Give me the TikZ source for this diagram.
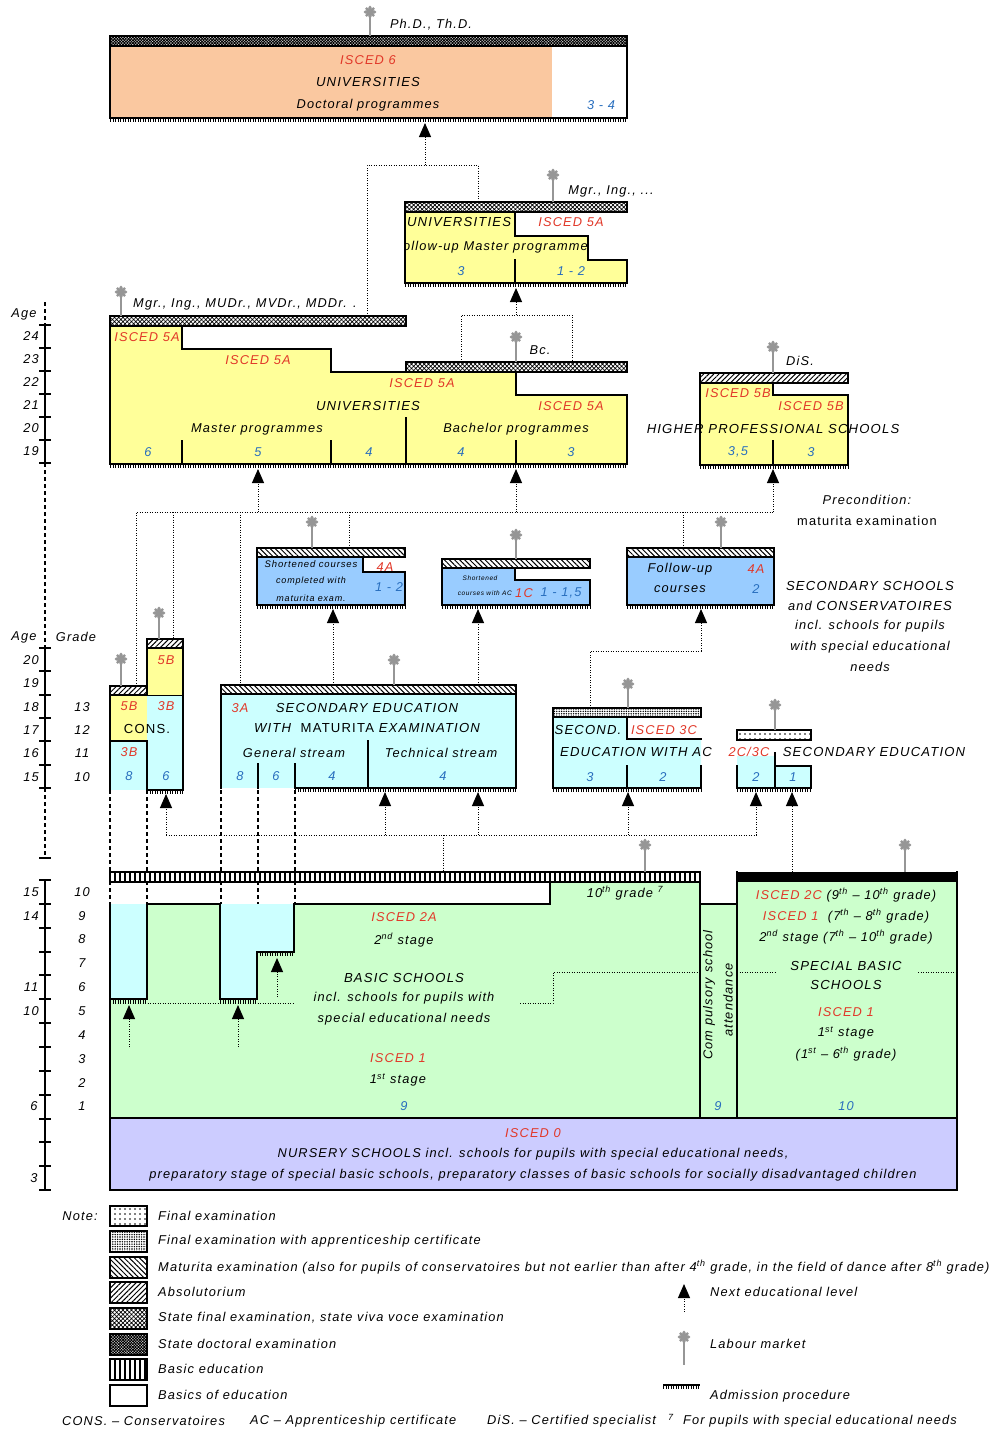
\documentclass[tikz,border=0pt]{standalone}
\usepackage{fontspec}
\setmainfont{Liberation Sans}[LetterSpace=9]
\usetikzlibrary{patterns,patterns.meta,arrows.meta}
\definecolor{orng}{RGB}{250,200,160}
\definecolor{yel}{RGB}{255,255,153}
\definecolor{lblue}{RGB}{204,255,255}
\definecolor{mblue}{RGB}{153,204,255}
\definecolor{grn}{RGB}{204,255,204}
\definecolor{lav}{RGB}{204,204,255}
\definecolor{iscred}{RGB}{225,55,40}
\definecolor{numblue}{RGB}{40,110,190}
\definecolor{pinc}{RGB}{150,150,150}
\newcommand\fs{\fontsize{12.8}{14}\selectfont}
\newcommand\fsc{\fontsize{13.1}{15}\selectfont}
\newcommand\tsup[1]{\textsuperscript{#1}}
\tikzset{
  ol/.style={line width=2pt, line join=miter, line cap=rect},
  thinl/.style={line width=1pt},
  txt/.style={font=\fs\itshape, inner sep=0pt, anchor=center},
  ctxt/.style={font=\fsc\itshape, inner sep=0pt, anchor=center},
  lab/.style={txt, text=iscred},
  num/.style={txt, text=numblue},
  dotl/.style={line width=1pt, dash pattern=on 1pt off 1.5pt},
  dashl/.style={line width=1.2pt, dash pattern=on 4pt off 3pt},
  arr/.style={dotl, -{Triangle[width=12pt,length=14pt]}},
  comb/.style={line width=3pt, dash pattern=on 1.2pt off 1.3pt},
  pmat/.style={pattern={Lines[angle=-45,distance=3.6pt,line width=1pt]}},
  pabs/.style={pattern={Lines[angle=45,distance=3.6pt,line width=1pt]}},
  pstate/.style={pattern={Hatch[angle=45,distance=3pt,line width=0.7pt]}},
  pdoc/.style={pattern={Hatch[angle=45,distance=2pt,line width=0.9pt]}},
  pac/.style={pattern={Dots[distance=2.4pt,radius=0.8pt]}},
  pfin/.style={pattern={Dots[distance=5pt,radius=0.9pt]}},
  pbas/.style={pattern={Lines[angle=90,distance=5pt,line width=2.6pt]}},
}
\newcommand\xbar[5]{\fill[white] (#1,#2) rectangle (#3,#4);\fill[#5] (#1,#2) rectangle (#3,#4);\draw[line width=1.4pt] (#1,#2) rectangle (#3,#4);}
\newcommand\combl[3]{\draw[comb] (#1,#3+2.6) -- (#2,#3+2.6);}
\newcommand\lpin[3]{\draw[pinc,line width=1.6pt] (#1,#2) -- (#1,#3);\fill[pinc] (#1,#2) circle (4.3);\foreach \a in {0,45,...,315}{\fill[pinc] (#1,#2) ++(\a:4.6) circle (1.7);}}
\begin{document}
\begin{tikzpicture}[x=1pt,y=-1pt]
\useasboundingbox (0,0) rectangle (993,1429);
\fill[white] (0,0) rectangle (993,1429);

% ---------- age / grade axes
\draw[dashl] (45,302) -- (45,325);
\draw[dashl] (45,463) -- (45,648);
\draw[dashl] (45,788) -- (45,858);
\draw[ol] (40,858) -- (50,858);
\draw[ol] (45,325) -- (45,463);
\foreach \k in {0,...,6} \draw[ol] (40,325+23*\k) -- (50,325+23*\k);
\draw[ol] (45,648) -- (45,788);
\foreach \k in {0,...,6} \draw[ol] (40,648+23.33*\k) -- (50,648+23.33*\k);
\draw[ol] (45,880) -- (45,1190);
\foreach \k in {0,...,13} \draw[ol] (40,880+23.85*\k) -- (50,880+23.85*\k);
\node[txt] (ageA) at (24,314) {Age};
\foreach \a [count=\i] in {24,23,22,21,20,19} \node[txt] (ua\i) at (31,313.5+23*\i) {\a};
\node[txt] (ageB) at (24,637) {Age};
\node[txt] (gradeB) at (76,637) {Grade};
\foreach \a [count=\i] in {20,19,18,17,16,15} \node[txt] (ma\i) at (31,636.7+23.33*\i) {\a};
\foreach \g [count=\i] in {13,12,11,10} \node[txt] (mg\i) at (82,683.3+23.33*\i) {\g};
\node[txt] (la15) at (31,892) {15};
\node[txt] (la14) at (31,916) {14};
\node[txt] (la11) at (31,987) {11};
\node[txt] (la10) at (31,1011) {10};
\node[txt] (la6) at (34,1106) {6};
\node[txt] (la3) at (34,1178) {3};
\foreach \g [count=\i] in {10,9,8,7,6,5,4,3,2,1} \node[txt] (lg\i) at (82,868+23.85*\i) {\g};

% ---------- ISCED 6
\fill[orng] (110,46) rectangle (552,118);
\draw[ol] (110,46) rectangle (627,118);
\xbar{110}{36}{627}{46}{pdoc}
\combl{110}{627}{118}
\lpin{370}{12}{36}
\node[txt] (phd) at (431,25) {Ph.D., Th.D.};
\node[lab] (i6a) at (368,60) {ISCED 6};
\node[ctxt] (i6b) at (368,82) {UNIVERSITIES};
\node[txt] (i6c) at (368,105) {Doctoral programmes};
\node[num] (i6d) at (601,105) {3 - 4};

% ---------- follow-up master
\fill[yel] (405,212) -- (515,212) -- (515,236) -- (588,236) -- (588,260) -- (627,260) -- (627,283) -- (405,283) -- cycle;
\begin{scope}
\clip (406,236) rectangle (620,260);
\node[txt,anchor=east] (fmF) at (588,247) {follow-up Master programme};
\end{scope}
\draw[ol] (405,212) -- (515,212) -- (515,236) -- (588,236) -- (588,260) -- (627,260) -- (627,283) -- (405,283) -- cycle;
\draw[ol] (515,260) -- (515,283);
\xbar{405}{202}{627}{212}{pstate}
\combl{405}{627}{283}
\lpin{553}{175}{202}
\node[txt] (mgr2) at (611,191) {Mgr., Ing., ...};
\node[ctxt] (fmU) at (459,222) {UNIVERSITIES};
\node[lab] (fmI) at (571,222) {ISCED 5A};
\node[num] (fm3) at (461,271) {3};
\node[num] (fm12) at (571,271) {1 - 2};

% ---------- universities
\fill[yel] (110,326) -- (182,326) -- (182,349) -- (331,349) -- (331,372) -- (516,372) -- (516,395) -- (627,395) -- (627,464) -- (110,464) -- cycle;
\draw[ol] (110,326) -- (182,326) -- (182,349) -- (331,349) -- (331,372) -- (516,372) -- (516,395) -- (627,395) -- (627,464) -- (110,464) -- cycle;
\draw[ol] (406,418) -- (406,464);
\draw[ol] (182,441) -- (182,464);
\draw[ol] (331,441) -- (331,464);
\draw[ol] (516,441) -- (516,464);
\xbar{110}{316}{406}{326}{pstate}
\xbar{406}{362}{627}{372}{pstate}
\combl{110}{627}{464}
\lpin{121}{292}{316}
\node[txt,anchor=west] (mgr1) at (133,304) {Mgr., Ing., MUDr., MVDr., MDDr. .};
\lpin{516}{337}{362}
\node[txt] (bc) at (540,350) {Bc.};
\node[lab] (u1) at (147,337) {ISCED 5A};
\node[lab] (u2) at (258,360) {ISCED 5A};
\node[lab] (u3) at (422,383) {ISCED 5A};
\node[lab] (u4) at (571,406) {ISCED 5A};
\node[ctxt] (uU) at (368,406) {UNIVERSITIES};
\node[txt] (uM) at (257,429) {Master programmes};
\node[txt] (uB) at (516,429) {Bachelor programmes};
\node[num] (un1) at (148,452) {6};
\node[num] (un2) at (258,452) {5};
\node[num] (un3) at (369,452) {4};
\node[num] (un4) at (461,452) {4};
\node[num] (un5) at (571,452) {3};

% ---------- higher professional schools
\fill[yel] (700,383) -- (773,383) -- (773,395) -- (848,395) -- (848,465) -- (700,465) -- cycle;
\draw[ol] (700,383) -- (773,383) -- (773,395) -- (848,395) -- (848,465) -- (700,465) -- cycle;
\draw[ol] (773,441) -- (773,465);
\xbar{700}{373}{848}{383}{pabs}
\combl{700}{848}{465}
\lpin{773}{347}{373}
\node[txt] (dis) at (800,361) {DiS.};
\node[lab] (h1) at (738,393) {ISCED 5B};
\node[lab] (h2) at (811,406) {ISCED 5B};
\node[ctxt] (hT) at (773,429) {HIGHER PROFESSIONAL SCHOOLS};
\node[num] (h35) at (738,452) {3,5};
\node[num] (h3) at (811,452) {3};
\node[txt] (pc1) at (867,500) {Precondition:};
\node[txt,font=\fs\upshape] (pc2) at (867,521) {maturita examination};

% ---------- connectors upper
\draw[arr] (425,165) -- (425,123);
\draw[dotl] (367,316) -- (367,165) -- (478,165) -- (478,202);
\draw[arr] (516,315) -- (516,288);
\draw[dotl] (461,362) -- (461,315) -- (572,315) -- (572,362);
\draw[dotl] (136,686) -- (136,512) -- (773,512);
\draw[dotl] (173,512) -- (173,639);
\draw[dotl] (240,512) -- (240,685);
\draw[dotl] (349,512) -- (349,548);
\draw[dotl] (683,512) -- (683,548);
\draw[arr] (258,512) -- (258,469);
\draw[arr] (516,512) -- (516,469);
\draw[arr] (773,512) -- (773,469);

% ---------- shortened courses 1
\fill[mblue] (257,557) -- (363,557) -- (363,572) -- (405,572) -- (405,605) -- (257,605) -- cycle;
\draw[ol] (257,557) -- (363,557) -- (363,572) -- (405,572) -- (405,605) -- (257,605) -- cycle;
\xbar{257}{548}{405}{557}{pmat}
\combl{257}{405}{605}
\lpin{312}{522}{548}
\node[txt,font=\fontsize{9.5}{11}\selectfont\itshape] (s1a) at (311,564) {Shortened courses};
\node[txt,font=\fontsize{9}{11}\selectfont\itshape] (s1b) at (311,581) {completed with};
\node[txt,font=\fontsize{9}{11}\selectfont\itshape] (s1c) at (311,598) {maturita exam.};
\node[lab] (s1d) at (385,567) {4A};
\node[num] (s1e) at (389,587) {1 - 2};

% ---------- shortened courses 2
\fill[mblue] (442,568) -- (515,568) -- (515,580) -- (590,580) -- (590,605) -- (442,605) -- cycle;
\draw[ol] (442,568) -- (515,568) -- (515,580) -- (590,580) -- (590,605) -- (442,605) -- cycle;
\xbar{442}{559}{590}{568}{pmat}
\combl{442}{590}{605}
\lpin{516}{535}{559}
\node[txt,font=\fontsize{6.5}{8}\selectfont\itshape] (s2a) at (480,578) {Shortened};
\node[txt,font=\fontsize{6.5}{8}\selectfont\itshape,anchor=east] (s2b) at (512,593) {courses with AC};
\node[lab] (s2c) at (524,593) {1C};
\node[num] (s2d) at (561,593) {1 - 1,5};

% ---------- follow-up courses
\fill[mblue] (627,557) rectangle (774,605);
\draw[ol] (627,557) rectangle (774,605);
\xbar{627}{548}{774}{557}{pmat}
\combl{627}{774}{605}
\lpin{721}{522}{548}
\node[txt] (fc1) at (680,569) {Follow-up};
\node[txt] (fc2) at (680,589) {courses};
\node[lab] (fc3) at (756,569) {4A};
\node[num] (fc4) at (756,589) {2};
\node[ctxt] (ss1) at (870,586) {SECONDARY SCHOOLS};
\node[txt] (ss2) at (870,606) {and {\fsc CONSERVATOIRES}};
\node[txt] (ss3) at (870,626) {incl. schools for pupils};
\node[txt] (ss4) at (870,647) {with special educational};
\node[txt] (ss5) at (870,667) {needs};

% ---------- arrows into shortened / follow-up
\draw[arr] (333,685) -- (333,609);
\draw[arr] (478,685) -- (478,609);
\draw[dotl] (590,708) -- (590,651) -- (701,651);
\draw[arr] (701,651) -- (701,609);

% ---------- dashed continuation lines
\foreach \x in {110,147,221,258,295} \draw[dashl] (\x,790) -- (\x,904);

% ---------- CONS
\fill[yel] (110,695) rectangle (147,741);
\fill[lblue] (110,741) rectangle (147,790);
\fill[yel] (147,648) rectangle (183,695);
\fill[lblue] (147,695) rectangle (183,790);
\draw[thinl] (147,695) -- (183,695);
\draw[ol] (110,695) -- (110,790);
\draw[ol] (110,741) -- (147,741);
\draw[ol] (147,741) -- (147,790);
\draw[ol] (147,695) -- (147,648) -- (183,648) -- (183,790) -- (147,790);
\xbar{110}{686}{147}{695}{pabs}
\xbar{147}{639}{183}{648}{pabs}
\combl{147}{183}{790}
\lpin{121}{659}{686}
\lpin{159}{613}{639}
\node[lab] (c1) at (166,660) {5B};
\node[lab] (c2) at (129,706) {5B};
\node[lab] (c3) at (166,706) {3B};
\node[txt,font=\fsc\upshape] (c4) at (147,729) {CONS.};
\node[lab] (c5) at (129,752) {3B};
\node[num] (c6) at (129,776) {8};
\node[num] (c7) at (166,776) {6};

% ---------- 3A secondary
\fill[lblue] (221,694) rectangle (516,788);
\draw[ol] (221,788) -- (221,694);
\draw[ol] (516,694) -- (516,788) -- (295,788) -- (295,764);
\draw[ol] (258,764) -- (258,788);
\draw[ol] (368,741) -- (368,788);
\xbar{221}{685}{516}{694}{pmat}
\combl{295}{516}{788}
\lpin{394}{660}{685}
\node[lab] (a1) at (240,708) {3A};
\node[ctxt] (a2) at (367,708) {SECONDARY EDUCATION};
\node[ctxt] (a3) at (367,728) {WITH \ {\upshape MATURITA} EXAMINATION};
\node[txt] (a4) at (294,753) {General stream};
\node[txt] (a5) at (441,753) {Technical stream};
\node[num] (a6) at (240,776) {8};
\node[num] (a7) at (276,776) {6};
\node[num] (a8) at (332,776) {4};
\node[num] (a9) at (443,776) {4};

% ---------- SECOND. with AC
\fill[lblue] (553,717) -- (627,717) -- (627,739) -- (701,739) -- (701,788) -- (553,788) -- cycle;
\draw[ol] (627,717) -- (627,739) -- (701,739);
\draw[ol] (701,766) -- (701,788) -- (553,788) -- (553,717);
\draw[ol] (627,766) -- (627,788);
\xbar{553}{708}{701}{717}{pac}
\combl{553}{701}{788}
\lpin{628}{684}{708}
\node[ctxt] (b1) at (588,730) {SECOND.};
\node[lab] (b2) at (664,730) {ISCED 3C};
\node[ctxt] (b3) at (636,752) {EDUCATION WITH AC};
\node[num] (b4) at (590,777) {3};
\node[num] (b5) at (663,777) {2};

% ---------- 2C/3C
\fill[lblue] (737,756) rectangle (775,788);
\fill[lblue] (775,766) rectangle (811,788);
\draw[ol] (737,766) -- (737,788) -- (811,788) -- (811,766) -- (775,766) -- (775,753);
\draw[ol] (775,766) -- (775,788);
\xbar{737}{730}{811}{740}{pfin}
\combl{737}{811}{788}
\lpin{775}{705}{730}
\node[lab] (d1) at (749,752) {2C/3C};
\node[ctxt] (d2) at (874,752) {SECONDARY EDUCATION};
\node[num] (d3) at (756,777) {2};
\node[num] (d4) at (793,777) {1};

% ---------- connectors middle
\draw[dotl] (166,835) -- (758,835);
\draw[dotl] (443,835) -- (443,872);
\draw[arr] (166,835) -- (166,794);
\draw[arr] (385,835) -- (385,792);
\draw[arr] (478,835) -- (478,792);
\draw[arr] (628,835) -- (628,792);
\draw[arr] (756,835) -- (756,792);
\draw[arr] (792,872) -- (792,792);

% ---------- basic schools
\fill[grn] (110,904) rectangle (700,1118);
\fill[grn] (550,882) rectangle (700,904);
\fill[lblue] (110,904) rectangle (147,999);
\fill[lblue] (220,904) rectangle (257,999);
\fill[lblue] (257,904) rectangle (294,952);
\fill[grn] (700,904) rectangle (737,1118);
\fill[grn] (737,882) rectangle (957,1118);
\draw[dotl] (110,1003) -- (294,1003);
\draw[dotl] (520,1003) -- (553,1003) -- (553,972) -- (700,972);
\draw[dotl] (737,972) -- (777,972);
\draw[dotl] (918,972) -- (957,972);
\draw[ol] (110,904) -- (110,1118);
\draw[ol] (700,872) -- (700,1118);
\draw[ol] (737,872) -- (737,1118);
\draw[ol] (957,872) -- (957,1118);
\draw[ol] (700,904) -- (737,904);
\draw[ol] (110,999) -- (147,999) -- (147,904) -- (220,904) -- (220,999) -- (257,999);
\draw[ol] (257,999) -- (257,952) -- (294,952) -- (294,904) -- (550,904) -- (550,882);
\combl{110}{147}{999}
\combl{220}{257}{999}
\combl{257}{294}{952}
\xbar{110}{872}{700}{882}{pbas}
\fill[black] (737,872) rectangle (957,882);
\lpin{645}{845}{872}
\lpin{905}{845}{872}
\draw[arr] (129,1047) -- (129,1005);
\draw[arr] (238,1047) -- (238,1005);
\draw[arr] (277,997) -- (277,958);
\node[txt] (g10) at (625,893) {10\tsup{th} grade \tsup{7}};
\node[lab] (e1) at (404,917) {ISCED 2A};
\node[txt] (e2) at (404,940) {2\tsup{nd} stage};
\node[ctxt] (e3) at (404,978) {BASIC SCHOOLS};
\node[txt] (e4) at (404,998) {incl. schools for pupils with};
\node[txt] (e5) at (404,1019) {special educational needs};
\node[lab] (e6) at (398,1058) {ISCED 1};
\node[txt] (e7) at (398,1080) {1\tsup{st} stage};
\node[num] (e8) at (404,1106) {9};
\node[txt,rotate=90] (cp1) at (709,995) {Com pulsory school};
\node[txt,rotate=90] (cp2) at (728,1000) {attendance};
\node[num] (cp9) at (718,1106) {9};
\node[txt] (sp1) at (846,895) {{\color{iscred}ISCED 2C} (9\tsup{th} -- 10\tsup{th} grade)};
\node[txt] (sp2) at (846,916) {{\color{iscred}ISCED 1} \ (7\tsup{th} -- 8\tsup{th} grade)};
\node[txt] (sp3) at (846,937) {2\tsup{nd} stage (7\tsup{th} -- 10\tsup{th} grade)};
\node[ctxt] (sp4) at (846,966) {SPECIAL BASIC};
\node[ctxt] (sp5) at (846,985) {SCHOOLS};
\node[lab] (sp6) at (846,1012) {ISCED 1};
\node[txt] (sp7) at (846,1033) {1\tsup{st} stage};
\node[txt] (sp8) at (846,1054) {(1\tsup{st} -- 6\tsup{th} grade)};
\node[num] (sp9) at (846,1106) {10};

% ---------- nursery
\fill[lav] (110,1118) rectangle (957,1190);
\draw[ol] (110,1118) rectangle (957,1190);
\node[lab] (ns1) at (533,1133) {ISCED 0};
\node[txt] (ns2) at (533,1154) {NURSERY SCHOOLS incl. schools for pupils with special educational needs,};
\node[txt] (ns3) at (533,1175) {preparatory stage of special basic schools, preparatory classes of basic schools for socially disadvantaged children};

% ---------- legend
\node[txt] (note) at (80,1216) {Note:};
\xbar{110}{1206}{147}{1226}{pfin}
\xbar{110}{1231}{147}{1252}{pac}
\xbar{110}{1257}{147}{1278}{pmat}
\xbar{110}{1282}{147}{1303}{pabs}
\xbar{110}{1308}{147}{1329}{pstate}
\xbar{110}{1334}{147}{1355}{pdoc}
\xbar{110}{1359}{147}{1380}{pbas}
\xbar{110}{1385}{147}{1406}{white}
\node[txt,anchor=west] (lg1) at (158,1216) {Final examination};
\node[txt,anchor=west] (lg2) at (158,1241) {Final examination with apprenticeship certificate};
\node[txt,anchor=west] (lg3) at (158,1267) {Maturita examination (also for pupils of conservatoires but not earlier than after 4\tsup{th} grade, in the field of dance after 8\tsup{th} grade)};
\node[txt,anchor=west] (lg4) at (158,1292) {Absolutorium};
\node[txt,anchor=west] (lg5) at (158,1318) {State final examination, state viva voce examination};
\node[txt,anchor=west] (lg6) at (158,1344) {State doctoral examination};
\node[txt,anchor=west] (lg7) at (158,1369) {Basic education};
\node[txt,anchor=west] (lg8) at (158,1395) {Basics of education};
\draw[arr] (684,1312) -- (684,1284);
\node[txt,anchor=west] (lg9) at (710,1292) {Next educational level};
\lpin{684}{1337}{1365}
\node[txt,anchor=west] (lg10) at (710,1344) {Labour market};
\draw[line width=1.5pt] (663,1385) -- (700,1385);
\combl{663}{700}{1385}
\node[txt,anchor=west] (lg11) at (710,1396) {Admission procedure};
\node[txt,anchor=west] (ft1) at (62,1421) {CONS. -- Conservatoires};
\node[txt,anchor=west] (ft2) at (250,1421) {AC -- Apprenticeship certificate};
\node[txt,anchor=west] (ft3) at (487,1421) {DiS. -- Certified specialist};
\node[txt,anchor=west] (ft4) at (668,1421) {\tsup{7} \ For pupils with special educational needs};
\end{tikzpicture}
\end{document}
